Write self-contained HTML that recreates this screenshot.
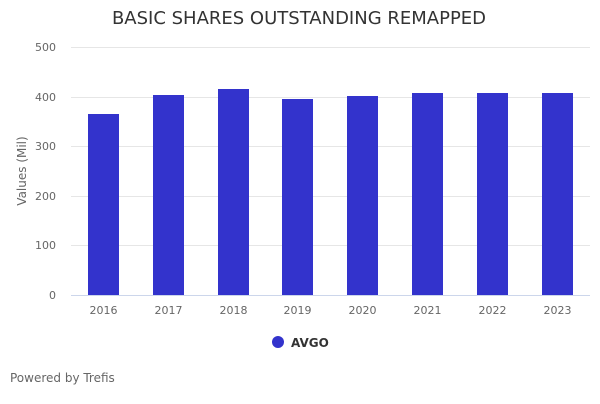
<!DOCTYPE html>
<html><head><meta charset="utf-8"><style>
body{margin:0;background:#fff;width:600px;height:400px;overflow:hidden;font-family:"DejaVu Sans",sans-serif}
</style></head><body>
<svg width="600" height="400" xmlns="http://www.w3.org/2000/svg" font-family="DejaVu Sans, sans-serif">
<rect width="600" height="400" fill="#fff"/>
<text x="299" y="24" text-anchor="middle" font-size="18" fill="#333">BASIC SHARES OUTSTANDING REMAPPED</text>
<g stroke="#e6e6e6" stroke-width="1">
<line x1="71" x2="590" y1="47.5" y2="47.5"/>
<line x1="71" x2="590" y1="97.5" y2="97.5"/>
<line x1="71" x2="590" y1="146.5" y2="146.5"/>
<line x1="71" x2="590" y1="196.5" y2="196.5"/>
<line x1="71" x2="590" y1="245.5" y2="245.5"/>
</g>
<line x1="71" x2="590" y1="295.5" y2="295.5" stroke="#ccd6eb"/>
<g font-size="11" fill="#666" text-anchor="end">
<text x="56" y="51">500</text><text x="56" y="101">400</text><text x="56" y="150">300</text>
<text x="56" y="200">200</text><text x="56" y="249">100</text><text x="56" y="299">0</text>
</g>
<text transform="translate(26,171) rotate(-90)" text-anchor="middle" font-size="12" fill="#666">Values (Mil)</text>
<g fill="#3333cc">
<rect x="88" y="114" width="31" height="181"/>
<rect x="153" y="95" width="31" height="200"/>
<rect x="218" y="89" width="31" height="206"/>
<rect x="282" y="99" width="31" height="196"/>
<rect x="347" y="96" width="31" height="199"/>
<rect x="412" y="93" width="31" height="202"/>
<rect x="477" y="93" width="31" height="202"/>
<rect x="542" y="93" width="31" height="202"/>
</g>
<g font-size="11" fill="#666" text-anchor="middle">
<text x="103.5" y="314">2016</text><text x="168.5" y="314">2017</text><text x="233.5" y="314">2018</text>
<text x="297.5" y="314">2019</text><text x="362.5" y="314">2020</text><text x="427.5" y="314">2021</text>
<text x="492.5" y="314">2022</text><text x="557.5" y="314">2023</text>
</g>
<circle cx="278" cy="342" r="6" fill="#3333cc"/>
<text x="291" y="347" font-size="12" font-weight="bold" fill="#333">AVGO</text>
<text x="10" y="382" font-size="12" fill="#666">Powered by Trefis</text>
</svg>
</body></html>
